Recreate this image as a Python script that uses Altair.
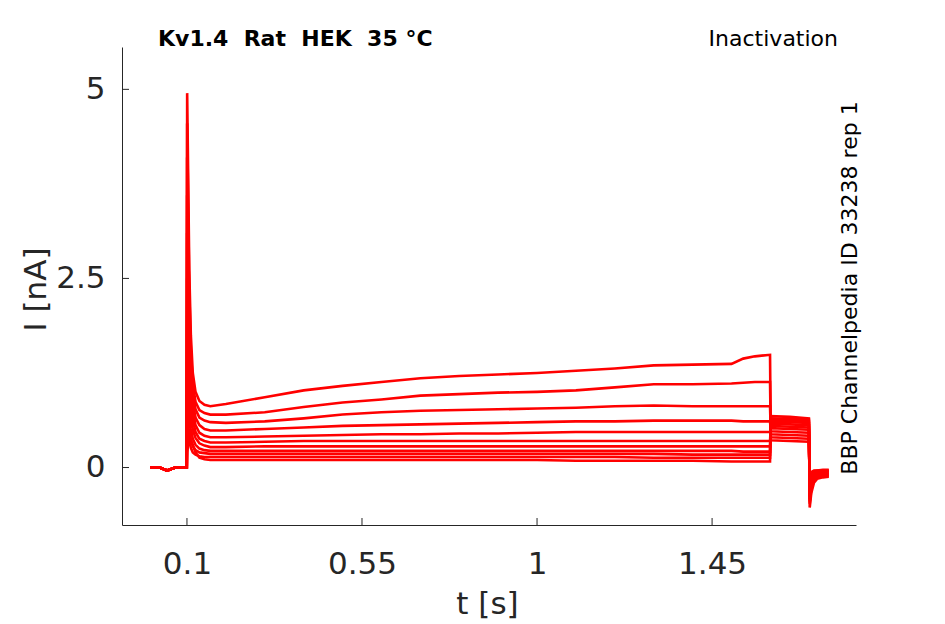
import altair as alt
import pandas as pd

# time samples [s]
T = [0.005, 0.03, 0.049, 0.07, 0.0995,
     0.1005, 0.103, 0.106, 0.11, 0.115, 0.122, 0.132, 0.145,
     0.16, 0.2, 0.3, 0.4, 0.5, 0.6, 0.7, 0.8, 0.9, 1.0, 1.1, 1.2, 1.3, 1.4, 1.5, 1.53, 1.56, 1.599,
     1.601, 1.65, 1.699,
     1.701, 1.705, 1.712, 1.72, 1.735, 1.75]

# currents [nA], one list per sweep (top to bottom during the long step)
TRACE_1 = [0, 0.0, -0.04, 0.0, 0.0,
           4.95, 3.9, 2.6, 1.75, 1.25, 1.0, 0.88, 0.83,
           0.81, 0.84, 0.93, 1.02, 1.08, 1.13, 1.18, 1.21, 1.23, 1.25, 1.28, 1.31, 1.35, 1.36, 1.37, 1.44, 1.47, 1.49,
           0.36, 0.35, 0.34,
           -0.2, -0.06, -0.04, -0.04, -0.03, -0.03]
TRACE_2 = [0, 0.0, -0.04, 0.0, 0.0,
           4.55, 3.5, 2.35, 1.55, 1.10, 0.87, 0.76, 0.72,
           0.70, 0.70, 0.73, 0.80, 0.86, 0.90, 0.95, 0.97, 0.99, 1.00, 1.02, 1.06, 1.10, 1.10, 1.11, 1.12, 1.13, 1.13,
           0.40, 0.39, 0.38,
           -0.24, -0.08, -0.05, -0.04, -0.04, -0.04]
TRACE_3 = [0, 0.0, -0.04, 0.0, 0.0,
           4.1, 3.15, 2.1, 1.4, 0.98, 0.77, 0.66, 0.62,
           0.60, 0.59, 0.61, 0.65, 0.70, 0.73, 0.75, 0.76, 0.77, 0.78, 0.79, 0.81, 0.82, 0.81, 0.81, 0.81, 0.81, 0.81,
           0.44, 0.43, 0.42,
           -0.27, -0.10, -0.06, -0.05, -0.05, -0.04]
TRACE_4 = [0, 0.0, -0.04, 0.0, 0.0,
           3.6, 2.75, 1.85, 1.22, 0.86, 0.66, 0.56, 0.51,
           0.49, 0.49, 0.51, 0.53, 0.55, 0.56, 0.57, 0.58, 0.59, 0.60, 0.61, 0.61, 0.62, 0.62, 0.62, 0.61, 0.61, 0.61,
           0.48, 0.47, 0.46,
           -0.30, -0.12, -0.07, -0.06, -0.05, -0.05]
TRACE_5 = [0, 0.0, -0.04, 0.0, 0.0,
           3.1, 2.35, 1.6, 1.05, 0.75, 0.56, 0.46, 0.42,
           0.40, 0.40, 0.41, 0.42, 0.43, 0.44, 0.44, 0.45, 0.45, 0.46, 0.47, 0.47, 0.47, 0.47, 0.47, 0.47, 0.47, 0.47,
           0.52, 0.51, 0.50,
           -0.33, -0.14, -0.08, -0.07, -0.06, -0.06]
TRACE_6 = [0, 0.0, -0.04, 0.0, 0.0,
           2.5, 1.9, 1.3, 0.88, 0.63, 0.47, 0.38, 0.35,
           0.33, 0.33, 0.34, 0.35, 0.35, 0.35, 0.35, 0.35, 0.35, 0.35, 0.35, 0.35, 0.35, 0.35, 0.35, 0.35, 0.35, 0.35,
           0.55, 0.54, 0.53,
           -0.36, -0.16, -0.09, -0.08, -0.07, -0.07]
TRACE_7 = [0, 0.0, -0.04, 0.0, 0.0,
           1.95, 1.5, 1.03, 0.7, 0.5, 0.39, 0.32, 0.29,
           0.27, 0.27, 0.28, 0.28, 0.28, 0.28, 0.28, 0.28, 0.28, 0.28, 0.28, 0.28, 0.28, 0.28, 0.28, 0.28, 0.28, 0.28,
           0.58, 0.57, 0.56,
           -0.39, -0.19, -0.10, -0.09, -0.08, -0.08]
TRACE_8 = [0, 0.0, -0.04, 0.0, 0.0,
           1.4, 1.08, 0.75, 0.52, 0.38, 0.30, 0.25, 0.23,
           0.22, 0.22, 0.22, 0.22, 0.22, 0.22, 0.22, 0.22, 0.22, 0.22, 0.22, 0.22, 0.22, 0.22, 0.22, 0.21, 0.21, 0.21,
           0.61, 0.60, 0.59,
           -0.42, -0.22, -0.12, -0.10, -0.09, -0.09]
TRACE_9 = [0, 0.0, -0.04, 0.0, 0.0,
           0.95, 0.74, 0.52, 0.37, 0.28, 0.23, 0.20, 0.19,
           0.18, 0.18, 0.18, 0.18, 0.18, 0.18, 0.18, 0.18, 0.18, 0.18, 0.18, 0.18, 0.18, 0.17, 0.17, 0.17, 0.17, 0.17,
           0.63, 0.62, 0.61,
           -0.45, -0.26, -0.14, -0.12, -0.10, -0.10]
TRACE_10 = [0, 0.0, -0.04, 0.0, 0.0,
            0.6, 0.48, 0.35, 0.26, 0.20, 0.17, 0.15, 0.14,
            0.14, 0.14, 0.14, 0.14, 0.14, 0.14, 0.14, 0.14, 0.14, 0.14, 0.14, 0.14, 0.13, 0.13, 0.13, 0.13, 0.13, 0.13,
            0.65, 0.64, 0.63,
            -0.48, -0.30, -0.16, -0.13, -0.11, -0.11]
TRACE_11 = [0, 0.0, -0.04, 0.0, 0.0,
            0.2, 0.3, 0.37, 0.36, 0.30, 0.20, 0.13, 0.11,
            0.10, 0.10, 0.10, 0.10, 0.10, 0.10, 0.10, 0.10, 0.10, 0.10, 0.09, 0.09, 0.09, 0.09, 0.08, 0.08, 0.08, 0.08,
            0.68, 0.67, 0.65,
            -0.53, -0.34, -0.20, -0.15, -0.13, -0.12]

TRACES = [TRACE_1, TRACE_2, TRACE_3, TRACE_4, TRACE_5, TRACE_6,
          TRACE_7, TRACE_8, TRACE_9, TRACE_10, TRACE_11]

X_TICKS = [0.1, 0.55, 1, 1.45]
Y_TICKS = [0, 2.5, 5]

TITLE_LEFT = "Kv1.4\u00a0 Rat\u00a0 HEK\u00a0 35 °C"
TITLE_RIGHT = "Inactivation"
SIDE_TEXT = "BBP Channelpedia ID 33238 rep 1"

rows = [{"t": t, "i": v, "trace": k}
        for k, tr in enumerate(TRACES) for t, v in zip(T, tr)]
df = pd.DataFrame(rows)

W, H = 734, 478
FONT = "DejaVu Sans"
AX = "#262626"

xscale = alt.Scale(domain=[-0.067, 1.82], nice=False, zero=False)
yscale = alt.Scale(domain=[-0.76, 5.56], nice=False, zero=False)

xaxis = alt.Axis(values=X_TICKS, format=".3~g", title="t [s]", grid=False,
                 ticks=False, tickSize=0, labelPadding=24,
                 labelFontSize=31, labelFont=FONT, labelColor=AX,
                 titleFontSize=31, titleFont=FONT, titleColor=AX,
                 titleFontWeight="normal", titleX=W / 2 - 2, titleY=88,
                 titleBaseline="alphabetic", titleAlign="center",
                 domainColor=AX, domainWidth=1)
yaxis = alt.Axis(values=Y_TICKS, format=".3~g", title="I [nA]", grid=False,
                 ticks=False, tickSize=0, labelPadding=17,
                 labelFontSize=31, labelFont=FONT, labelColor=AX,
                 titleFontSize=31, titleFont=FONT, titleColor=AX,
                 titleFontWeight="normal", titleAngle=-90,
                 titleX=-77, titleY=242, titleBaseline="alphabetic",
                 titleAlign="center",
                 domainColor=AX, domainWidth=1)

lines = alt.Chart(df).mark_line(color="#ff0000", strokeWidth=2.6, clip=True).encode(
    x=alt.X("t:Q", scale=xscale, axis=xaxis, title="t [s]"),
    y=alt.Y("i:Q", scale=yscale, axis=yaxis, title="I [nA]"),
    detail="trace:N",
)

xticks = alt.Chart(pd.DataFrame({"t": X_TICKS})).mark_rule(color=AX, strokeWidth=1).encode(
    x=alt.X("t:Q", scale=xscale, axis=xaxis, title="t [s]"),
    y=alt.value(H), y2=alt.value(H - 7),
)
yticks = alt.Chart(pd.DataFrame({"i": Y_TICKS})).mark_rule(color=AX, strokeWidth=1).encode(
    y=alt.Y("i:Q", scale=yscale, axis=yaxis, title="I [nA]"),
    x=alt.value(0), x2=alt.value(7),
)

t_left = alt.Chart(pd.DataFrame({"s": [TITLE_LEFT]})).mark_text(
    font=FONT, fontSize=22, fontWeight="bold", align="left", baseline="alphabetic", color="black"
).encode(text="s:N", x=alt.value(36), y=alt.value(-1))

t_right = alt.Chart(pd.DataFrame({"s": [TITLE_RIGHT]})).mark_text(
    font=FONT, fontSize=22, align="right", baseline="alphabetic", color="black"
).encode(text="s:N", x=alt.value(716), y=alt.value(-1))

side = alt.Chart(pd.DataFrame({"s": [SIDE_TEXT]})).mark_text(
    font=FONT, fontSize=22, align="center", baseline="middle", angle=270, color="black"
).encode(text="s:N", x=alt.value(728), y=alt.value(241))

chart = alt.layer(lines, xticks, yticks, t_left, t_right, side).properties(
    width=W, height=H,
    padding={"left": 114, "top": 39, "right": 80, "bottom": 95},
    autosize=alt.AutoSizeParams(type="none"),
).configure_view(stroke=None)

chart.save("out.html", embed_options={"renderer": "svg", "actions": False})
